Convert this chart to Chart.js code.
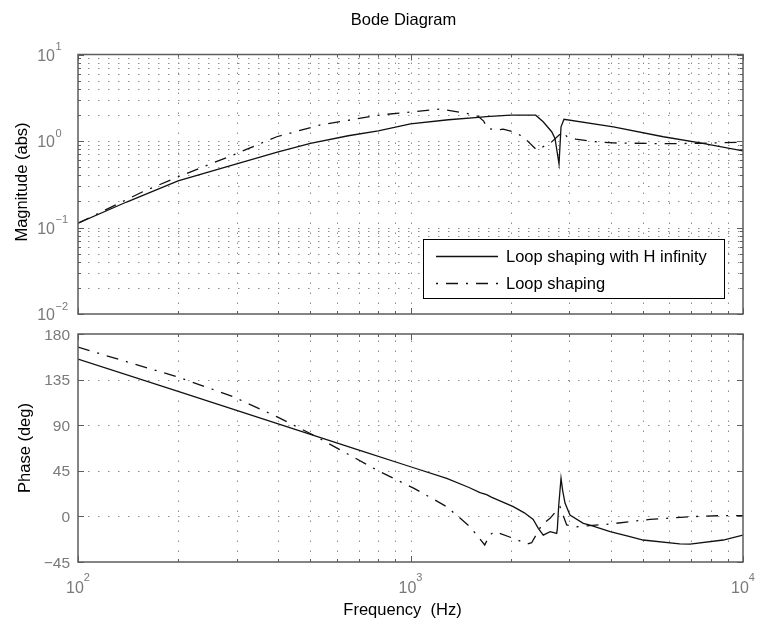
<!DOCTYPE html>
<html>
<head>
<meta charset="utf-8">
<title>Bode Diagram</title>
<script src="https://cdn.jsdelivr.net/npm/chart.js@4.4.0/dist/chart.umd.min.js"></script>
<style>
  html, body { margin: 0; padding: 0; background: #ffffff; }
  #wrap { position: relative; width: 757px; height: 623px; overflow: hidden; }
  #wrap canvas { position: absolute; left: 0; top: 0; }
</style>
</head>
<body>
<div id="wrap">
  <canvas id="magChart" width="757" height="623"></canvas>
  <canvas id="phaseChart" width="757" height="623"></canvas>
</div>
<script>
// ---- tick positions ----
const freqTicks = [100, 200, 300, 400, 500, 600, 700, 800, 900,
                   1000, 2000, 3000, 4000, 5000, 6000, 7000, 8000, 9000, 10000];
const magTicks = [0.01, 0.02, 0.03, 0.04, 0.05, 0.06, 0.07, 0.08, 0.09,
                  0.1, 0.2, 0.3, 0.4, 0.5, 0.6, 0.7, 0.8, 0.9,
                  1, 2, 3, 4, 5, 6, 7, 8, 9, 10];
const phaseTicks = [-45, 0, 45, 90, 135, 180];
const phaseTickLabels = ['\u221245', '0', '45', '90', '135', '180'];

// ---- series: loop shaping with H infinity ----
const hinfMagFreq = [100, 140, 200, 300, 400, 500, 650, 800, 1000, 1300, 1600, 1690, 2000, 2380,
                     2506, 2658, 2720, 2797, 2836, 2895, 4075, 5760, 7430, 10000];
const hinfMag     = [0.112, 0.197, 0.345, 0.545, 0.75, 0.94, 1.15, 1.31, 1.58, 1.76, 1.88, 1.91, 1.99, 1.99,
                     1.67, 1.28, 1.07, 0.54, 1.46, 1.78, 1.46, 1.12, 0.95, 0.77];

const hinfPhaseFreq = [100, 200, 400, 700, 1000, 1285, 1500, 1618, 1694, 1750, 2037, 2200, 2339, 2423,
                       2508, 2630, 2752, 2765, 2790, 2836, 2870, 2917, 3017, 3309, 3467, 3985, 4570,
                       5005, 6450, 6930, 8720, 10000];
const hinfPhase     = [155.3, 123.3, 91.3, 65.5, 49, 37.5, 28.5, 23.4, 21.5, 19, 9.6, 3.5, -3, -11.8,
                       -18.5, -15, -16.7, -12, 10, 37.6, 25, 12.9, 1.4, -6.8, -8.5, -15, -20,
                       -23.3, -27.2, -27.4, -23.3, -18.4];

// ---- series: loop shaping ----
const lsMagFreq = [100, 157, 200, 293, 396, 534, 809, 1025, 1227, 1476, 1600, 1660, 1700, 1814, 1900,
                   2037, 2183, 2393, 2570, 2630, 2860, 2960, 3140, 3500, 4075, 5760, 7430, 10000];
const lsMag     = [0.112, 0.26, 0.385, 0.69, 1.12, 1.53, 2.0, 2.18, 2.34, 2.09, 1.92, 1.70, 1.40, 1.34, 1.37,
                   1.28, 1.12, 0.79, 0.90, 0.94, 1.27, 1.12, 1.05, 0.99, 0.95, 0.93, 0.94, 0.97];

const lsPhaseFreq = [100, 200, 293, 396, 510, 809, 1025, 1285, 1510, 1672, 1730, 1790, 2037, 2240,
                     2314, 2481, 2628, 2816, 2949, 3161, 3981, 5253, 6928, 8526, 10000];
const lsPhase     = [167, 137.5, 118.1, 98.4, 80.3, 44.1, 27.7, 9.6, -10.2, -28.2, -18.4, -15, -21.6, -27.2,
                     -26, -8.5, -1.9, 9.6, -8.5, -10.2, -7.5, -2.9, -0.3, 0.7, 0.7];

// ---- styling ----
const FONT = '"Liberation Sans", Arial, Helvetica, sans-serif';
const AXIS_COLOR = '#5c5c5c';
const GRID_COLOR = '#8c8c8c';
const TICK_TEXT = '#7a7a7a';
const LINE_COLOR = '#111111';
const DASH_DOT = [12, 8, 2, 8];
const SERIES_NAMES = ['Loop shaping with H infinity', 'Loop shaping'];

function pairs(xs, ys) { return xs.map((x, i) => ({ x: x, y: ys[i] })); }
function seg(ctx, x1, y1, x2, y2) { ctx.beginPath(); ctx.moveTo(x1, y1); ctx.lineTo(x2, y2); ctx.stroke(); }
function isDecade(v) { const l = Math.log10(v); return Math.abs(l - Math.round(l)) < 1e-9; }
function expText(v) { const e = Math.round(Math.log10(v)); return e < 0 ? '\u2212' + (-e) : String(e); }

// grid, box, inward ticks and labels for one pair of axes
function axesFrame(cfg) {
  return {
    id: 'axesFrame',
    beforeDatasetsDraw(chart) {
      const { ctx, chartArea: a, scales: { x, y } } = chart;
      ctx.save();
      ctx.strokeStyle = GRID_COLOR;
      ctx.lineWidth = 1;
      ctx.setLineDash([1.5, 8.5]);
      freqTicks.forEach(v => {
        const px = Math.round(x.getPixelForValue(v)) + 0.5;
        if (px < a.left + 2 || px > a.right - 2) return;
        seg(ctx, px, a.bottom, px, a.top);
      });
      cfg.yGrid.forEach(v => {
        const py = Math.round(y.getPixelForValue(v)) + 0.5;
        if (py < a.top + 2 || py > a.bottom - 2) return;
        seg(ctx, a.left, py, a.right, py);
      });
      ctx.restore();
    },
    afterDraw(chart) {
      const { ctx, chartArea: a, scales: { x, y } } = chart;
      ctx.save();
      ctx.strokeStyle = AXIS_COLOR;
      ctx.lineWidth = 1;
      freqTicks.forEach(v => {
        const px = Math.round(x.getPixelForValue(v)) + 0.5;
        const len = isDecade(v) ? 6 : 3;
        seg(ctx, px, a.bottom, px, a.bottom - len);
        seg(ctx, px, a.top, px, a.top + len);
      });
      cfg.yGrid.forEach(v => {
        const py = Math.round(y.getPixelForValue(v)) + 0.5;
        const len = cfg.yMajor(v) ? 6 : 3;
        seg(ctx, a.left, py, a.left + len, py);
        seg(ctx, a.right, py, a.right - len, py);
      });
      ctx.lineWidth = 1.5;
      ctx.strokeRect(a.left, a.top, a.right - a.left, a.bottom - a.top);
      ctx.restore();
      ctx.save();
      cfg.decorate(ctx, a, x, y);
      ctx.restore();
    }
  };
}

function lineDatasets(f1, v1, f2, v2) {
  return [
    { label: SERIES_NAMES[0], data: pairs(f1, v1), borderColor: LINE_COLOR, borderWidth: 1.3,
      pointRadius: 0, tension: 0, fill: false },
    { label: SERIES_NAMES[1], data: pairs(f2, v2), borderColor: LINE_COLOR, borderWidth: 1.3,
      borderDash: DASH_DOT, pointRadius: 0, tension: 0, fill: false }
  ];
}

function makeChart(id, datasets, yScale, padding, plugin) {
  return new Chart(document.getElementById(id), {
    type: 'line',
    data: { datasets: datasets },
    options: {
      responsive: false,
      maintainAspectRatio: false,
      animation: false,
      devicePixelRatio: 1,
      events: [],
      layout: { padding: padding },
      plugins: { legend: { display: false }, title: { display: false }, tooltip: { enabled: false } },
      scales: {
        x: { type: 'logarithmic', min: 100, max: 10000, display: false },
        y: yScale
      }
    },
    plugins: [plugin]
  });
}

// ---- magnitude ----
makeChart('magChart',
  lineDatasets(hinfMagFreq, hinfMag, lsMagFreq, lsMag),
  { type: 'logarithmic', min: 0.01, max: 10, display: false },
  { left: 78, right: 14, top: 54.5, bottom: 309 },
  axesFrame({
    yGrid: magTicks,
    yMajor: isDecade,
    decorate(ctx, a, x, y) {
      // y tick labels 10^n
      magTicks.filter(isDecade).forEach(v => {
        const py = y.getPixelForValue(v);
        ctx.fillStyle = TICK_TEXT;
        ctx.font = '16px ' + FONT;
        ctx.textAlign = 'right';
        ctx.textBaseline = 'alphabetic';
        ctx.fillText('10', 55, py + 6);
        ctx.font = '11px ' + FONT;
        ctx.textAlign = 'left';
        ctx.fillText(expText(v), 55.5, py - 4.5);
      });
      // y axis title
      ctx.fillStyle = '#000';
      ctx.font = '16.5px ' + FONT;
      ctx.textAlign = 'center';
      ctx.save();
      ctx.translate(27, 182);
      ctx.rotate(-Math.PI / 2);
      ctx.fillText('Magnitude (abs)', 0, 0);
      ctx.restore();
      // legend
      const lx = 423.5, ly = 239.5, lw = 301, lh = 59;
      ctx.fillStyle = '#fff';
      ctx.fillRect(lx, ly, lw, lh);
      ctx.strokeStyle = '#000';
      ctx.lineWidth = 1;
      ctx.strokeRect(lx, ly, lw, lh);
      ctx.strokeStyle = LINE_COLOR;
      ctx.lineWidth = 1.3;
      seg(ctx, 436, 256.5, 498, 256.5);
      ctx.setLineDash(DASH_DOT);
      ctx.lineDashOffset = 20;
      seg(ctx, 436, 283.5, 498, 283.5);
      ctx.setLineDash([]);
      ctx.fillStyle = '#000';
      ctx.font = '16.5px ' + FONT;
      ctx.textAlign = 'left';
      ctx.fillText(SERIES_NAMES[0], 506, 262);
      ctx.fillText(SERIES_NAMES[1], 506, 288.5);
    }
  })
);

// ---- phase ----
makeChart('phaseChart',
  lineDatasets(hinfPhaseFreq, hinfPhase, lsPhaseFreq, lsPhase),
  { type: 'linear', min: -45, max: 180, display: false },
  { left: 78, right: 14, top: 334, bottom: 61 },
  axesFrame({
    yGrid: phaseTicks,
    yMajor: () => true,
    decorate(ctx, a, x, y) {
      ctx.fillStyle = TICK_TEXT;
      ctx.font = '15.5px ' + FONT;
      ctx.textAlign = 'right';
      ctx.textBaseline = 'alphabetic';
      phaseTicks.forEach((v, i) => {
        ctx.fillText(phaseTickLabels[i], 70, y.getPixelForValue(v) + 5.5);
      });
      // x tick labels 10^n
      freqTicks.filter(isDecade).forEach(v => {
        const px = x.getPixelForValue(v);
        ctx.font = '16px ' + FONT;
        const wb = ctx.measureText('10').width;
        ctx.font = '11px ' + FONT;
        const we = ctx.measureText(expText(v)).width;
        const start = px - (wb + we) / 2;
        ctx.textAlign = 'left';
        ctx.font = '16px ' + FONT;
        ctx.fillText('10', start, 592.5);
        ctx.font = '11px ' + FONT;
        ctx.fillText(expText(v), start + wb, 580.5);
      });
      ctx.fillStyle = '#000';
      ctx.font = '16.5px ' + FONT;
      ctx.textAlign = 'center';
      ctx.fillText('Frequency  (Hz)', 402.5, 615);
      ctx.fillText('Bode Diagram', 403.5, 25);
      ctx.save();
      ctx.translate(30, 448);
      ctx.rotate(-Math.PI / 2);
      ctx.fillText('Phase (deg)', 0, 0);
      ctx.restore();
    }
  })
);
</script>
</body>
</html>
